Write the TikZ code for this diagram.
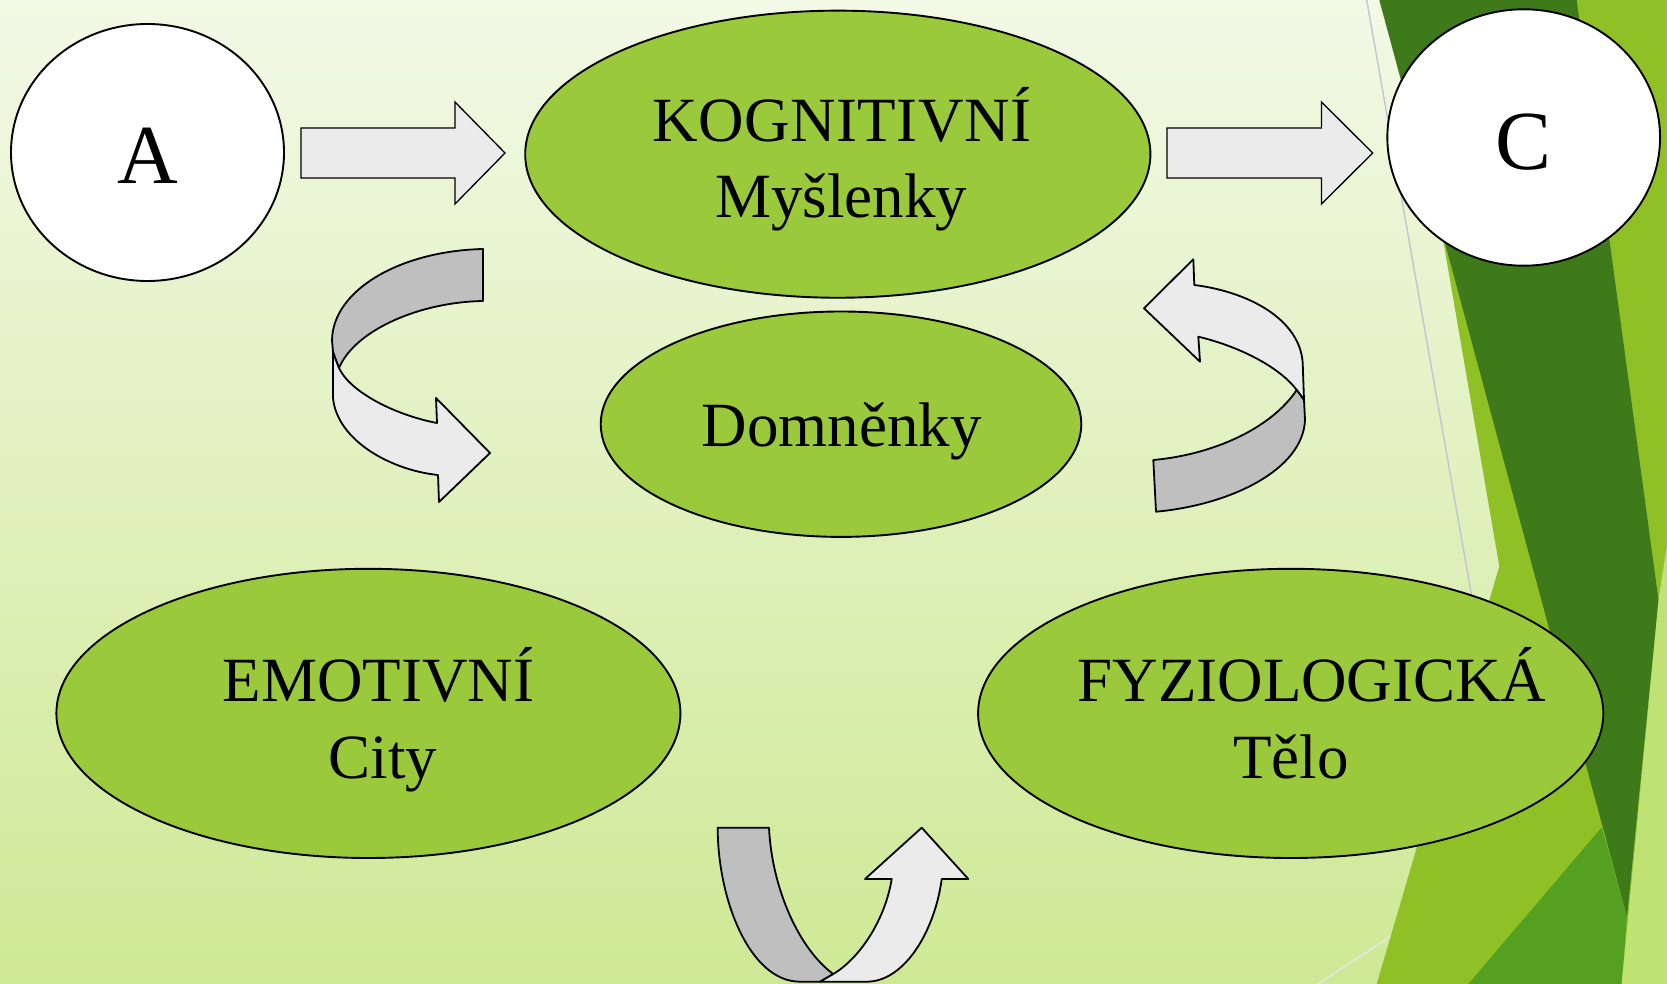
\documentclass[tikz,border=0pt]{standalone}
\usepackage{fontspec}
\setmainfont{Liberation Serif}
\usetikzlibrary{shapes.geometric}
\definecolor{bgtop}{HTML}{F2F9E6}
\definecolor{bgbot}{HTML}{CEE995}
\definecolor{elgreen}{HTML}{9ACA3C}
\definecolor{dkgreen}{HTML}{3F7A1A}
\definecolor{brgreen}{HTML}{8FC126}
\definecolor{mdgreen}{HTML}{55A021}
\definecolor{ltgreen}{HTML}{C0E274}
\definecolor{arrlight}{HTML}{EBEBEB}
\definecolor{arrgray}{HTML}{BFBFBF}
\definecolor{thinline}{HTML}{C6C6D2}
\definecolor{paleline}{HTML}{E6E8E0}
\begin{document}
\begin{tikzpicture}[x=1pt,y=-1pt,
  oval/.style={ellipse, draw=black, line width=1.9pt, inner sep=0pt},
  greenoval/.style={oval, fill=elgreen},
  whiteoval/.style={oval, fill=white},
  lbl/.style={anchor=base, inner sep=0pt, font=\fontsize{63}{76}\selectfont},
  biglbl/.style={anchor=base, inner sep=0pt, font=\fontsize{84}{100}\selectfont},
  blockarrow/.style={draw=black, line width=1.3pt, fill=arrlight, line join=miter},
  ribbonfront/.style={draw=black, line width=1.8pt, fill=arrlight, line join=round},
  ribbonback/.style={draw=black, line width=1.8pt, fill=arrgray, line join=round}]

\useasboundingbox (0,0) rectangle (1667,984);
\shade[top color=bgtop, bottom color=bgbot] (0,0) rectangle (1667,984);

% theme decoration on the right
\draw[thinline, line width=1.5pt] (1366.7,0) -- (1540,984);
\draw[paleline, line width=1.5pt] (1300,996) -- (1420,917);
\fill[brgreen] (1401.8,0) -- (1667,0) -- (1667,984) -- (1376.7,984) -- (1499.3,566.3) -- cycle;
\fill[dkgreen] (1379.3,0) -- (1576.7,0) -- (1658.5,600) -- (1627,917) -- cycle;
\fill[mdgreen] (1601.7,827.3) -- (1627,917) -- (1621.7,984) -- (1468.3,984) -- cycle;
\fill[ltgreen] (1659,596) -- (1667,545) -- (1667,984) -- (1621.7,984) -- cycle;

% ovals
\node[whiteoval, minimum width=273, minimum height=257] (A) at (147.5,152.5) {};
\node[whiteoval, minimum width=272.7, minimum height=256.4] (C) at (1523.7,137.5) {};
\node[greenoval, minimum width=625.2, minimum height=287.1] (K) at (837.8,154.2) {};
\node[greenoval, minimum width=480.6, minimum height=225.4] (D) at (841,424.2) {};
\node[greenoval, minimum width=624, minimum height=289.2] (E) at (368.4,713.4) {};
\node[greenoval, minimum width=625.2, minimum height=289.2] (F) at (1290.7,713.4) {};

% labels
\node[biglbl] (Atext) at (147.5,183.3) {A};
\node[biglbl] (Ctext) at (1523.7,169.5) {C};
\node[lbl] (Ktitle) at (842,141.7) {\addfontfeatures{LetterSpace=0.8}KOGNITIVNÍ};
\node[lbl] (Ksub) at (841,218) {Myšlenky};
\node[lbl] (Dtext) at (841.7,446) {Domněnky};
\node[lbl] (Etitle) at (378.6,701.7) {EMOTIVNÍ};
\node[lbl] (Esub) at (382.8,778.3) {City};
\node[lbl] (Ftitle) at (1312,701.7) {FYZIOLOGICKÁ};
\node[lbl] (Fsub) at (1291,778.3) {Tělo};

% straight block arrows
\draw[blockarrow] (301,128) -- (455,128) -- (455,102) -- (505,153) -- (455,204) -- (455,178) -- (301,178) -- cycle;
\draw[blockarrow] (1167,128) -- (1321.5,128) -- (1321.5,102) -- (1372.7,153) -- (1321.5,204) -- (1321.5,178) -- (1167,178) -- cycle;

% left curved ribbon arrow
\draw[ribbonback] (483,249) .. controls (400,251) and (333,290) .. (332,340) -- (333,352)
  .. controls (335,358) and (337,363) .. (339,368)
  .. controls (355,330) and (420,302) .. (483,301) -- cycle;
\draw[ribbonfront] (333,352) .. controls (335,358) and (337,363) .. (339,368)
  .. controls (350,392) and (395,415) .. (437,423) -- (436,398) -- (490,453) -- (439,502) -- (438,475)
  .. controls (390,470) and (337,440) .. (333,398) -- cycle;

% right curved ribbon arrow
\draw[ribbonfront] (1194.3,285) .. controls (1250,292) and (1300,320) .. (1302.7,363) -- (1304,400)
  .. controls (1301,396) and (1299,393) .. (1296.7,390)
  .. controls (1282,370) and (1245,348) .. (1198.3,336.7) -- (1200,361.7) -- (1144,308.3) -- (1193.3,259.3) -- cycle;
\draw[ribbonback] (1296.7,390) .. controls (1299,393) and (1301,396) .. (1304,400) -- (1305,420)
  .. controls (1303,470) and (1230,505) .. (1156,511.7) -- (1153.3,460)
  .. controls (1210,455) and (1270,430) .. (1296.7,390) -- cycle;

% bottom curved ribbon arrow
\draw[ribbonback] (717.7,827.7) -- (769,827.7) .. controls (772,890) and (800,950) .. (833.3,974)
  -- (820,981.7) -- (800,981.7) .. controls (750,981.7) and (717.7,900) .. (717.7,827.7) -- cycle;
\draw[ribbonfront] (833.3,974) .. controls (860,958) and (885,920) .. (891.7,879) -- (865,879)
  -- (921.7,827.7) -- (968.3,879) -- (941.7,879)
  .. controls (935,930) and (905,981.7) .. (866.7,981.7) -- (820,981.7) -- cycle;
\end{tikzpicture}
\end{document}
